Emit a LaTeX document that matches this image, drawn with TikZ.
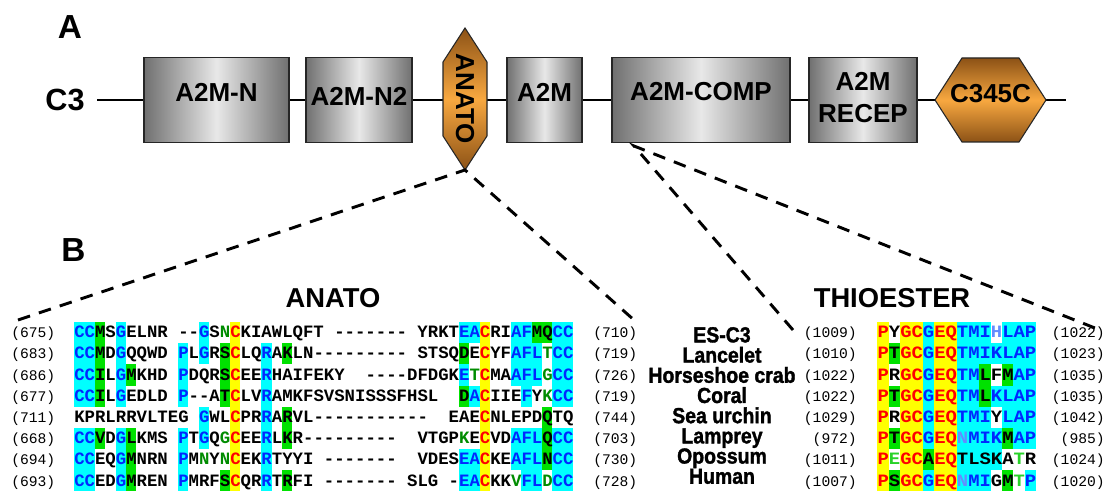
\documentclass[tikz,border=0pt]{standalone}
\usepackage{fontspec}
\setmainfont{Liberation Sans}
\setmonofont{Liberation Mono}
\newfontfamily\seqwide{Liberation Mono}[FakeStretch=1.09]
\newfontfamily\spfont{Liberation Sans}[BoldFeatures={FakeBold=1.6}]
\usepackage{tikz}

\definecolor{hlcyan}{RGB}{0,255,255}
\definecolor{hlgreen}{RGB}{0,225,0}
\definecolor{hlyellow}{RGB}{255,255,0}
\definecolor{resblue}{RGB}{0,40,255}
\definecolor{resred}{RGB}{255,0,0}
\definecolor{resgreen}{RGB}{0,140,0}
\definecolor{reslime}{RGB}{40,210,40}
\definecolor{respale}{RGB}{100,140,255}
\definecolor{boxgrey}{RGB}{112,112,112}
\definecolor{boxlight}{RGB}{232,232,232}
\definecolor{hexdark}{RGB}{140,82,22}
\definecolor{hexlight}{RGB}{248,168,64}

\newcommand{\cB}[1]{\textcolor{resblue}{#1}}
\newcommand{\cR}[1]{\textcolor{resred}{#1}}
\newcommand{\cG}[1]{\textcolor{resgreen}{#1}}
\newcommand{\cL}[1]{\textcolor{reslime}{#1}}
\newcommand{\cP}[1]{\textcolor{respale}{#1}}

\newcommand{\seqx}{74}
\newcommand{\seqw}{10.4}
\newcommand{\thx}{877.3}
\newcommand{\thw}{11.34}
\newcommand{\seqtop}{322}
\newcommand{\seqdy}{21.2}
\newcommand{\lbox}[5]{\fill[#1] ({\seqx+\seqw*#2},{\seqtop+\seqdy*(#3-1)}) rectangle ++({\seqw*#4},{\seqdy*#5});}
\newcommand{\tbox}[5]{\fill[#1] ({\thx+\thw*#2},{\seqtop+\seqdy*(#3-1)}) rectangle ++({\thw*#4},{\seqdy*#5});}

\begin{document}
\begin{tikzpicture}[x=0.75pt,y=-0.75pt,
    dombox/.style={draw=black!85,line width=1pt,left color=boxgrey,right color=boxgrey,middle color=boxlight},
    hexdom/.style={draw=black!85,line width=0.8pt,top color=hexdark,bottom color=hexdark,middle color=hexlight},
    domtxt/.style={inner sep=0pt,font=\fontsize{19.5}{24}\selectfont\bfseries},
    panel/.style={inner sep=0pt,font=\fontsize{25}{25}\selectfont\bfseries},
    title/.style={inner sep=0pt,font=\fontsize{20.5}{20.5}\selectfont\bfseries},
    splab/.style={inner sep=0pt,text height=7.6pt,text depth=1.8pt,font=\fontsize{14.6}{14.6}\selectfont\spfont\bfseries},
    numtxt/.style={inner sep=0pt,font=\fontsize{11}{11}\selectfont\ttfamily},
    seqtxt/.style={anchor=base west,inner sep=0pt,font=\fontsize{13}{13}\selectfont\ttfamily\bfseries},
    thiotxt/.style={anchor=base west,inner sep=0pt,font=\fontsize{13}{13}\selectfont\seqwide\bfseries},
    zoomline/.style={line width=2.2pt,dash pattern=on 9.5pt off 7pt}]
  \fill[white] (0,0) rectangle (1113,491);
  \useasboundingbox (0,0) rectangle (1113,491);

  \node (lblA) at (70,27) [panel] {A};
  \node (c3) at (65,100) [inner sep=0pt,font=\fontsize{23}{23}\selectfont\bfseries] {C3};
  \coordinate (linestart) at (97,100);
  \coordinate (lineend) at (1066,100);
  \draw[line width=2.2pt] (linestart) -- (lineend);

  \draw[dombox] (144,57.5) rectangle (289,142.5);
  \node (a2mn) at (216.5,92) [domtxt] {A2M-N};
  \draw[dombox] (306,57.5) rectangle (412,142.5);
  \node (a2mn2) at (359,96) [domtxt] {A2M-N2};
  \coordinate (anatotip) at (465,170);
  \draw[hexdom] (465,28) -- (487,62) -- (487,136) -- (anatotip) -- (443,136) -- (443,62) -- cycle;
  \node (anato) at (465,99) [domtxt,rotate=-90] {ANATO};
  \draw[dombox] (507,57.5) rectangle (582,142.5);
  \node (a2m) at (544.5,92) [domtxt] {A2M};
  \draw[dombox] (612,57.5) rectangle (790,142.5);
  \node (a2mcomp) at (701,92) [domtxt] {A2M-COMP};
  \draw[dombox] (809,57.5) rectangle (917,142.5);
  \node (a2mrecep) at (863,98) [domtxt,align=center] {A2M\\RECEP};
  \draw[hexdom] (935,100) -- (962,58) -- (1019,58) -- (1046,100) -- (1019,142) -- (962,142) -- cycle;
  \node (c345c) at (990.5,94) [domtxt] {C345C};

  \coordinate (anatoL) at (18,320);
  \coordinate (anatoR) at (634,320);
  \coordinate (comptip) at (634,146);
  \coordinate (thioL) at (793,330);
  \coordinate (thioR) at (1100,330);
  \draw[zoomline] (anatoL) -- (anatotip) -- (anatoR);
  \draw[zoomline] (thioL) -- (comptip) -- (thioR);

  \node (lblB) at (73.5,250) [panel] {B};
  \node (anatott) at (333,298) [title] {ANATO};
  \node (thiott) at (892,298) [title] {THIOESTER};

  \lbox{hlcyan}{0}{1}{2}{4} \lbox{hlcyan}{0}{6}{2}{3}
  \lbox{hlcyan}{4}{1}{1}{4} \lbox{hlcyan}{4}{6}{1}{3}
  \lbox{hlcyan}{10}{2}{1}{3} \lbox{hlcyan}{10}{6}{1}{3}
  \lbox{hlcyan}{12}{1}{1}{2} \lbox{hlcyan}{12}{5}{1}{2}
  \lbox{hlcyan}{18}{2}{1}{7}
  \lbox{hlcyan}{37}{1}{2}{1} \lbox{hlcyan}{37}{3}{1}{1}
  \lbox{hlcyan}{38}{4}{1}{1} \lbox{hlcyan}{37}{7}{2}{2}
  \lbox{hlcyan}{42}{1}{2}{3} \lbox{hlcyan}{44}{2}{1}{2}
  \lbox{hlcyan}{43}{4}{1}{1} \lbox{hlcyan}{42}{6}{3}{2}
  \lbox{hlcyan}{43}{8}{2}{1}
  \lbox{hlcyan}{46}{1}{2}{4} \lbox{hlcyan}{46}{6}{2}{3}
  \lbox{hlgreen}{2}{1}{1}{4} \lbox{hlgreen}{2}{6}{1}{1}
  \lbox{hlgreen}{5}{3}{1}{1} \lbox{hlgreen}{5}{6}{1}{3}
  \lbox{hlgreen}{14}{2}{1}{3} \lbox{hlgreen}{14}{8}{1}{1}
  \lbox{hlgreen}{20}{2}{1}{1} \lbox{hlgreen}{20}{5}{1}{2} \lbox{hlgreen}{20}{8}{1}{1}
  \lbox{hlgreen}{37}{2}{1}{1} \lbox{hlgreen}{37}{4}{1}{1}
  \lbox{hlgreen}{44}{1}{2}{1} \lbox{hlgreen}{45}{5}{1}{3}
  \lbox{hlyellow}{15}{1}{1}{8} \lbox{hlyellow}{39}{1}{1}{8}

  \tbox{hlyellow}{0}{1}{1}{8} \tbox{hlyellow}{2}{1}{2}{8} \tbox{hlyellow}{5}{1}{2}{8}
  \tbox{hlgreen}{1}{2}{1}{1} \tbox{hlgreen}{1}{4}{1}{1} \tbox{hlgreen}{1}{6}{1}{1} \tbox{hlgreen}{1}{8}{1}{1}
  \tbox{hlgreen}{4}{7}{1}{1} \tbox{hlgreen}{9}{3}{1}{2}
  \tbox{hlgreen}{11}{3}{1}{1} \tbox{hlgreen}{11}{6}{1}{1} \tbox{hlgreen}{11}{8}{1}{1}
  \tbox{hlcyan}{4}{1}{1}{6} \tbox{hlcyan}{4}{8}{1}{1}
  \tbox{hlcyan}{7}{1}{2}{8}
  \tbox{hlcyan}{9}{1}{1}{2} \tbox{hlcyan}{9}{5}{1}{4}
  \tbox{hlcyan}{10}{2}{1}{1} \tbox{hlcyan}{10}{4}{1}{1} \tbox{hlcyan}{10}{6}{1}{2}
  \tbox{hlcyan}{11}{1}{1}{2} \tbox{hlcyan}{11}{4}{1}{2}
  \tbox{hlcyan}{12}{1}{1}{6}
  \tbox{hlcyan}{13}{1}{1}{6} \tbox{hlcyan}{13}{8}{1}{1}

  \node (seq1) at (\seqx,{\seqtop+15.6}) [seqtxt] {\cB{CC}MS\cB{G}ELNR --\cB{G}S\cG{N}\cR{C}KIAWLQFT ------- YRKT\cB{EA}\cR{C}RI\cB{AF}MQ\cB{CC}};
  \node (seq2) at (\seqx,{\seqtop+15.6+\seqdy}) [seqtxt] {\cB{CC}MD\cB{G}QQWD \cB{P}L\cB{G}RS\cR{C}LQ\cB{R}AKLN--------- STSQDE\cR{C}YF\cB{AFL}\cG{T}\cB{CC}};
  \node (seq3) at (\seqx,{\seqtop+15.6+\seqdy*2}) [seqtxt] {\cB{CC}IL\cB{G}MKHD \cB{P}DQRS\cR{C}EE\cB{R}HAIFEKY~~----DFDGK\cB{E}\cG{T}\cR{C}MA\cB{AFL}\cG{G}\cB{CC}};
  \node (seq4) at (\seqx,{\seqtop+15.6+\seqdy*3}) [seqtxt] {\cB{CC}IL\cB{G}EDLD \cB{P}--AT\cR{C}LV\cB{R}AMKFSVSNISSSFHSL~~D\cB{A}\cR{C}IIE\cB{F}Y\cG{K}\cB{CC}};
  \node (seq5) at (\seqx,{\seqtop+15.6+\seqdy*4}) [seqtxt] {KPRLRRVLTEG \cB{G}WL\cR{C}PR\cB{R}ARVL-----------~~EAE\cR{C}NLEPDQTQ};
  \node (seq6) at (\seqx,{\seqtop+15.6+\seqdy*5}) [seqtxt] {\cB{CC}VD\cB{G}LKMS \cB{P}T\cB{G}Q\cG{G}\cR{C}EE\cB{R}LKR---------~~VTGP\cG{K}E\cR{C}VD\cB{AFL}Q\cB{CC}};
  \node (seq7) at (\seqx,{\seqtop+15.6+\seqdy*6}) [seqtxt] {\cB{CC}EQ\cB{G}MNRN \cB{P}M\cG{N}Y\cG{N}\cR{C}EK\cB{R}TYYI -------~~VDES\cB{EA}\cR{C}KE\cB{AFL}N\cB{CC}};
  \node (seq8) at (\seqx,{\seqtop+15.6+\seqdy*7}) [seqtxt] {\cB{CC}ED\cB{G}MREN \cB{P}MRFS\cR{C}QR\cB{R}TRFI -------~SLG~-\cB{EA}\cR{C}KK\cG{V}\cB{FL}\cG{D}\cB{CC}};

  \node (thio1) at (\thx,{\seqtop+15.6}) [thiotxt] {\cR{P}Y\cR{GC}\cB{G}\cR{EQ}\cB{TMI}\cP{H}\cB{LAP}};
  \node (thio2) at (\thx,{\seqtop+15.6+\seqdy}) [thiotxt] {\cR{P}T\cR{GC}\cB{G}\cR{EQ}\cB{TMIKLAP}};
  \node (thio3) at (\thx,{\seqtop+15.6+\seqdy*2}) [thiotxt] {\cR{P}R\cR{GC}\cB{G}\cR{EQ}\cB{TM}LFM\cB{AP}};
  \node (thio4) at (\thx,{\seqtop+15.6+\seqdy*3}) [thiotxt] {\cR{P}T\cR{GC}\cB{G}\cR{EQ}\cB{TM}L\cB{KLAP}};
  \node (thio5) at (\thx,{\seqtop+15.6+\seqdy*4}) [thiotxt] {\cR{P}R\cR{GC}\cB{G}\cR{EQ}\cB{TMI}Y\cB{LAP}};
  \node (thio6) at (\thx,{\seqtop+15.6+\seqdy*5}) [thiotxt] {\cR{P}T\cR{GC}\cB{G}\cR{EQ}\cP{N}\cB{MIK}M\cB{AP}};
  \node (thio7) at (\thx,{\seqtop+15.6+\seqdy*6}) [thiotxt] {\cR{P}\cL{E}\cR{GC}A\cR{EQ}TLSKA\cL{T}R};
  \node (thio8) at (\thx,{\seqtop+15.6+\seqdy*7}) [thiotxt] {\cR{P}S\cR{GC}\cB{G}\cR{EQ}\cP{N}\cB{MI}GM\cL{T}\cB{P}};

  \foreach \a/\b [count=\i] in {675/710,683/719,686/726,677/719,711/744,668/703,694/730,693/728}{
    \node (lnum\i) at (11,{\seqtop+15.6+\seqdy*(\i-1)}) [numtxt,anchor=base west] {(\a)};
    \node (rnum\i) at (593,{\seqtop+15.6+\seqdy*(\i-1)}) [numtxt,anchor=base west] {(\b)};
  }
  \foreach \a/\b [count=\i] in {1009/1022,1010/1023,1022/1035,1022/1035,1029/1042,972/985,1011/1024,1007/1020}{
    \node (tlnum\i) at (857,{\seqtop+15.6+\seqdy*(\i-1)}) [numtxt,anchor=base east] {(\a)};
    \node (trnum\i) at (1105,{\seqtop+15.6+\seqdy*(\i-1)}) [numtxt,anchor=base east] {(\b)};
  }
  \foreach \spname [count=\i] in {ES-C3,Lancelet,Horseshoe crab,Coral,Sea urchin,Lamprey,Opossum,Human}
    \node (sp\i) at (722,{338.5+20.2*(\i-1)}) [splab] {\scalebox{1}[1.12]{\spname}};
\end{tikzpicture}
\end{document}
